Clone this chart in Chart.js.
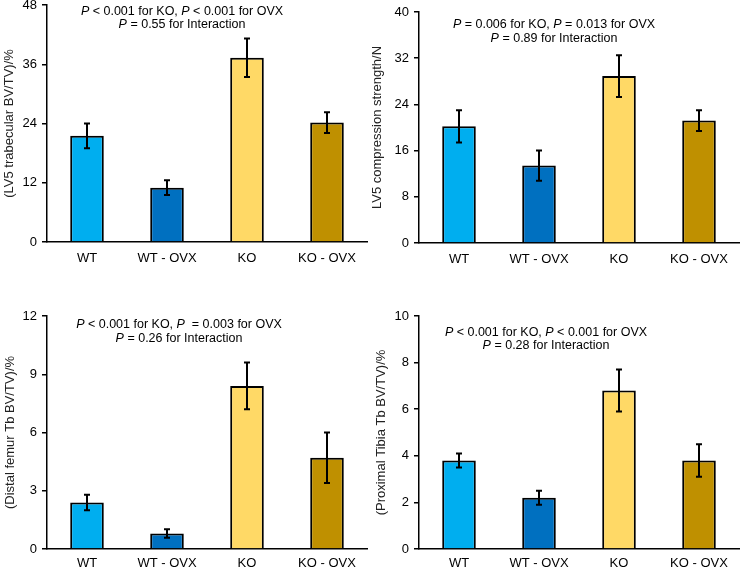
<!DOCTYPE html>
<html>
<head>
<meta charset="utf-8">
<script src="https://cdn.jsdelivr.net/npm/chart.js@4.4.0/dist/chart.umd.min.js"></script>
<style>
    body { margin: 0; background: #fff; width: 740px; height: 567px; position: relative; overflow: hidden; }
    .painel { position: absolute; }
</style>
</head>
<body>
<div class="painel" style="left:0;top:0;width:370px;height:280px"><canvas id="g1" width="370" height="280"></canvas></div>
<div class="painel" style="left:370px;top:0;width:370px;height:280px"><canvas id="g2" width="370" height="280"></canvas></div>
<div class="painel" style="left:0;top:280px;width:370px;height:287px"><canvas id="g3" width="370" height="287"></canvas></div>
<div class="painel" style="left:370px;top:280px;width:370px;height:287px"><canvas id="g4" width="370" height="287"></canvas></div>
<script>
const grupos = ["WT", "WT - OVX", "KO", "KO - OVX"];
const cores = ["#00AEEF", "#0070C0", "#FFD966", "#BF9000"];

// LV5 trabecular BV/TV
const bvLV5 = [21.5, 11.0, 37.3, 24.2];
const bvLV5Erro = [2.5, 1.5, 3.9, 2.1];
const ticksLV5 = [0, 12, 24, 36, 48];
const textoLV5 = ["*P* < 0.001 for KO, *P* < 0.001 for OVX", "*P* = 0.55 for Interaction"];

// LV5 compression strength
const forcaLV5 = [20.2, 13.4, 28.9, 21.2];
const forcaLV5Erro = [2.8, 2.6, 3.6, 1.8];
const ticksForca = [0, 8, 16, 24, 32, 40];
const textoForca = ["*P* = 0.006 for KO, *P* = 0.013 for OVX", "*P* = 0.89 for Interaction"];

// distal femur
const bvFemur = [2.4, 0.8, 8.4, 4.7];
const bvFemurErro = [0.4, 0.22, 1.2, 1.3];
const ticksFemur = [0, 3, 6, 9, 12];
const textoFemur = ["*P* < 0.001 for KO, *P*  = 0.003 for OVX", "*P* = 0.26 for Interaction"];

// proximal tibia
const bvTibia = [3.8, 2.2, 6.8, 3.8];
const bvTibiaErro = [0.3, 0.3, 0.9, 0.7];
const ticksTibia = [0, 2, 4, 6, 8, 10];
const textoTibia = ["*P* < 0.001 for KO, *P* < 0.001 for OVX", "*P* = 0.28 for Interaction"];

Chart.defaults.font.family = '"Liberation Sans", Arial, sans-serif';
Chart.defaults.font.size = 13;
Chart.defaults.color = '#000';

const FONTE_P = 12.5;

// barras de erro (media +- erro)
const erroBarras = {
    id: 'erroBarras',
    afterDatasetsDraw(chart) {
        const ctx = chart.ctx;
        const y = chart.scales.y;
        chart.data.datasets.forEach((ds, d) => {
            chart.getDatasetMeta(d).data.forEach((bar, i) => {
                const topo = y.getPixelForValue(ds.data[i] + ds.erros[i]);
                const base = y.getPixelForValue(ds.data[i] - ds.erros[i]);
                ctx.save();
                ctx.strokeStyle = '#000';
                ctx.lineWidth = 2;
                ctx.beginPath();
                ctx.moveTo(bar.x, topo); ctx.lineTo(bar.x, base);
                ctx.moveTo(bar.x - 3, topo); ctx.lineTo(bar.x + 3, topo);
                ctx.moveTo(bar.x - 3, base); ctx.lineTo(bar.x + 3, base);
                ctx.stroke();
                ctx.restore();
            });
        });
    }
};

// texto com P em italico
const textoP = {
    id: 'textoP',
    afterDraw(chart, args, opts) {
        const ctx = chart.ctx;
        const area = chart.chartArea;
        const cx = (area.left + area.right) / 2 + opts.dx;
        opts.linhas.forEach((linha, n) => {
            const partes = linha.split('*');
            let largura = 0;
            partes.forEach((p, k) => {
                ctx.font = (k % 2 ? 'italic ' : '') + FONTE_P + 'px "Liberation Sans", Arial, sans-serif';
                largura += ctx.measureText(p).width;
            });
            let x = cx - largura / 2;
            const yy = area.top + opts.dy[n];
            ctx.save();
            ctx.fillStyle = '#000';
            ctx.textAlign = 'left';
            ctx.textBaseline = 'middle';
            partes.forEach((p, k) => {
                ctx.font = (k % 2 ? 'italic ' : '') + FONTE_P + 'px "Liberation Sans", Arial, sans-serif';
                ctx.fillText(p, x, yy);
                x += ctx.measureText(p).width;
            });
            ctx.restore();
        });
    }
};

function criarGrafico(canvasID, valores, erros, ticks, tituloY, linhas, cfg) {
    return new Chart(document.getElementById(canvasID), {
        type: 'bar',
        plugins: [erroBarras, textoP],
        data: {
            labels: grupos,
            datasets: [{
                data: valores,
                erros: erros,
                backgroundColor: cores,
                borderColor: '#000',
                borderWidth: 2,
                categoryPercentage: 1,
                barPercentage: 0.42
            }]
        },
        options: {
            responsive: false,
            animation: false,
            devicePixelRatio: 1,
            layout: { padding: { top: cfg.topo, right: cfg.direita, left: 0, bottom: 0 } },
            plugins: {
                legend: { display: false },
                tooltip: { enabled: false },
                textoP: { linhas: linhas, dx: cfg.dx, dy: cfg.dy }
            },
            scales: {
                x: {
                    grid: { display: false, drawTicks: false },
                    border: { display: true, color: '#000', width: 1.5 },
                    ticks: { padding: cfg.padX, maxRotation: 0, font: { size: 13 } },
                    afterFit: (s) => { s.height = cfg.alturaX; }
                },
                y: {
                    min: ticks[0],
                    max: ticks[ticks.length - 1],
                    afterBuildTicks: (s) => { s.ticks = ticks.map((v) => ({ value: v })); },
                    afterFit: (s) => { s.width = cfg.larguraY; s.paddingTop = 0; s.paddingBottom = 0; },
                    grid: { drawOnChartArea: false, drawTicks: true, tickLength: 5, color: '#000', lineWidth: 1.5 },
                    border: { display: true, color: '#000', width: 1.5 },
                    ticks: { padding: 5, font: { size: 13 } },
                    title: { display: true, text: tituloY, color: '#222', font: { size: 13 }, padding: { top: cfg.padTitulo, bottom: 0 } }
                }
            }
        }
    });
}

criarGrafico('g1', bvLV5, bvLV5Erro, ticksLV5, '(LV5 trabecular BV/TV)/%', textoLV5,
    { topo: 5, direita: 3, larguraY: 47, alturaX: 38, padX: 9, padTitulo: 2, dx: -25, dy: [7, 20] });
criarGrafico('g2', forcaLV5, forcaLV5Erro, ticksForca, 'LV5 compression strength/N', textoForca,
    { topo: 12, direita: 1, larguraY: 49, alturaX: 37, padX: 9, padTitulo: 0, dx: -25, dy: [13, 27] });
criarGrafico('g3', bvFemur, bvFemurErro, ticksFemur, '(Distal femur Tb BV/TV)/%', textoFemur,
    { topo: 36, direita: 3, larguraY: 47, alturaX: 18, padX: 7, padTitulo: 3, dx: -28, dy: [9, 23] });
criarGrafico('g4', bvTibia, bvTibiaErro, ticksTibia, '(Proximal Tibia Tb BV/TV)/%', textoTibia,
    { topo: 36, direita: 1, larguraY: 49, alturaX: 18, padX: 7, padTitulo: 4, dx: -33, dy: [17, 30] });
</script>
</body>
</html>
